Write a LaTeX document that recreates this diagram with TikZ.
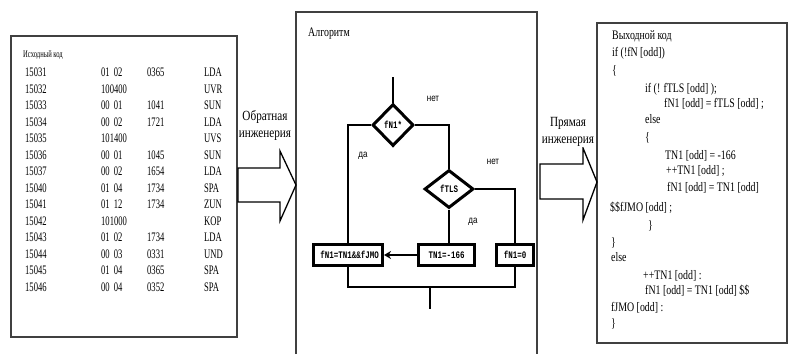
\documentclass[tikz,border=0pt]{standalone}
\usepackage{fontspec}
\setmainfont{Liberation Serif}
\newfontfamily\lcond[FakeStretch=0.66]{Liberation Serif}
\newfontfamily\rcond[FakeStretch=0.76]{Liberation Serif}
\newfontfamily\lblf[FakeStretch=0.8]{Liberation Serif}
\newfontfamily\monof[FakeStretch=0.75]{Liberation Mono}
\newfontfamily\sansf[FakeStretch=0.8]{Liberation Sans}
\usetikzlibrary{shapes.geometric,arrows.meta}
\tikzset{
  frame/.style={draw=black!75, line width=1.2pt},
  lcode/.style={anchor=base west, inner sep=0pt, font=\lcond\fontsize{13}{15}\selectfont},
  rcode/.style={anchor=base west, inner sep=0pt, font=\rcond\fontsize{13}{15}\selectfont},
  ttl/.style={anchor=base west, inner sep=0pt},
  fline/.style={line width=2.6pt},
  dia/.style={draw, diamond, line width=3pt, inner sep=0pt, font=\monof\bfseries\fontsize{10}{12}\selectfont},
  fbox/.style={draw, rectangle, line width=3pt, inner sep=2pt, minimum height=21pt, font=\monof\bfseries\fontsize{10}{12}\selectfont},
  yn/.style={inner sep=0pt, font=\sansf\fontsize{10}{12}\selectfont},
  blk/.style={draw=black, line width=1.3pt, fill=white, line join=miter},
  lbl/.style={align=center, fill=white, inner sep=1pt, font=\lblf\fontsize{14}{17}\selectfont}
}
\begin{document}
\begin{tikzpicture}[x=1pt,y=-1pt]
\path[use as bounding box] (0,0) rectangle (789,354);
% frames
\draw[frame] (11,36) rectangle (237,337);
\draw[frame] (296,354) -- (296,12) -- (537,12) -- (537,354);
\draw[frame] (597,23) rectangle (787,343);
% left box
\node[ttl, font=\lcond\fontsize{10}{12}\selectfont] (srcttl) at (23,57.5) {Исходный код};
\foreach \a/\b/\c/\d [count=\i from 0] in {
  15031/{01\hspace{4pt}02}/0365/LDA,
  15032/100400//UVR,
  15033/{00\hspace{4pt}01}/1041/SUN,
  15034/{00\hspace{4pt}02}/1721/LDA,
  15035/101400//UVS,
  15036/{00\hspace{4pt}01}/1045/SUN,
  15037/{00\hspace{4pt}02}/1654/LDA,
  15040/{01\hspace{4pt}04}/1734/SPA,
  15041/{01\hspace{4pt}12}/1734/ZUN,
  15042/101000//KOP,
  15043/{01\hspace{4pt}02}/1734/LDA,
  15044/{00\hspace{4pt}03}/0331/UND,
  15045/{01\hspace{4pt}04}/0365/SPA,
  15046/{00\hspace{4pt}04}/0352/SPA}{
  \pgfmathsetmacro{\yy}{76.5+16.5*\i}
  \node[lcode] (ra\i) at (25,\yy) {\a};
  \node[lcode] (rb\i) at (101,\yy) {\b};
  \node[lcode] (rc\i) at (147,\yy) {\c};
  \node[lcode] (rd\i) at (204,\yy) {\d};
}
% block arrows
\draw[blk] (238,168) -- (280,168) -- (280,151) -- (296,185) -- (280,221) -- (280,202) -- (238,202) -- cycle;
\draw[blk] (540,164) -- (583,164) -- (583,148) -- (597,182) -- (583,220) -- (583,199) -- (540,199) -- cycle;
\node[lbl] (lab1) at (265,125.5) {Обратная\\инженерия};
\node[lbl] (lab2) at (568,131.5) {Прямая\\инженерия};
% middle box
\node[ttl, font=\rcond\fontsize{13}{15}\selectfont] (algttl) at (308,36.5) {Алгоритм};
\coordinate (top) at (393,77);
\node[dia, minimum width=41pt, minimum height=42pt] (d1) at (393,125) {fN1*};
\node[dia, minimum width=49pt, minimum height=38pt] (d2) at (449,189) {fTLS};
\node[fbox, minimum width=69pt, text width=62pt, align=right] (b1) at (348,255) {fN1=TN1\&\&fJMO};
\node[fbox, minimum width=56pt] (b2) at (446.5,255) {TN1=-166};
\node[fbox, minimum width=37pt] (b3) at (515,255) {fN1=0};
\draw[fline] (top) -- (d1.north);
\draw[fline] (d1.east) -| (d2.north);
\draw[fline] (d1.west) -| (b1.north);
\draw[fline] (d2.east) -| (b3.north);
\draw[fline] (d2.south) -- (d2.south |- b2.north);
\draw[fline, -{Stealth[length=7pt,width=8pt]}] (b2.west) -- (b1.east);
\coordinate (jn) at (430,287);
\coordinate (jend) at (430,309);
\draw[fline] (b1.south) -- (b1.south |- jn) -| (b3.south);
\draw[fline] (jn) -- (jend);
\node[yn] (no1) at (433,99) {нет};
\node[yn] (no2) at (493,162) {нет};
\node[yn] (yes1) at (363,156) {да};
\node[yn] (yes2) at (473,222) {да};
% right box
\node[rcode] (o1) at (612,39.5) {Выходной код};
\node[rcode] (o2) at (612,56.5) {if (!fN [odd])};
\node[rcode] (o3) at (612,74.5) {\{};
\node[rcode] (o4) at (645,92.5) {if (! fTLS [odd] );};
\node[rcode] (o5) at (664,107.5) {fN1 [odd] = fTLS [odd] ;};
\node[rcode] (o6) at (645,123.5) {else};
\node[rcode] (o7) at (645,141.5) {\{};
\node[rcode] (o8) at (665,159.5) {TN1 [odd] = -166};
\node[rcode] (o9) at (666,174.5) {++TN1 [odd] ;};
\node[rcode] (o10) at (667,191.5) {fN1 [odd] = TN1 [odd]};
\node[rcode] (o11) at (610,211.5) {\$\$fJMO [odd] ;};
\node[rcode] (o12) at (648,229.5) {\}};
\node[rcode] (o13) at (611,246.5) {\}};
\node[rcode] (o14) at (611,261.5) {else};
\node[rcode] (o15) at (643,279.5) {++TN1 [odd] :};
\node[rcode] (o16) at (645,294.5) {fN1 [odd] = TN1 [odd] \$\$};
\node[rcode] (o17) at (611,311.5) {fJMO [odd] :};
\node[rcode] (o18) at (611,327.5) {\}};
\end{tikzpicture}
\end{document}
